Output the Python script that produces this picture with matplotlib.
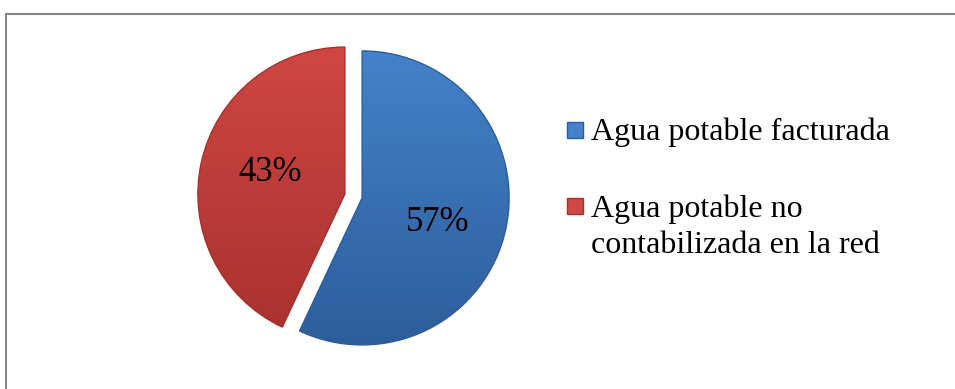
import numpy as np
import matplotlib
matplotlib.use("Agg")
import matplotlib.pyplot as plt
from matplotlib.patches import Rectangle
from matplotlib.lines import Line2D
from matplotlib.colors import LinearSegmentedColormap

# data
labels = ["Agua potable facturada", "Agua potable no\ncontabilizada en la red"]
values = [57, 43]
pct_text = ["57%", "43%"]

# colours (light top -> dark bottom)
blue_top, blue_bot = "#4584CC", "#2C5C9A"
red_top, red_bot = "#D04844", "#A5302D"

plt.rcParams["font.family"] = ["Liberation Serif", "DejaVu Serif"]

W, H = 955, 389
fig = plt.figure(figsize=(W / 100, H / 100), dpi=100)

# pie axes placed in pixels
cx, cy, rpx = 353.5, 389 - 196, 147
half = 1.1 * rpx
ax = fig.add_axes([(cx - half) / W, (cy - half) / H, 2 * half / W, 2 * half / H])

wedges, _ = ax.pie(values, startangle=90, counterclock=False,
                   explode=[0.06, 0.06], radius=1.0,
                   colors=[blue_top, red_top],
                   wedgeprops=dict(linewidth=0))
ax.set_xlim(-1.1, 1.1)
ax.set_ylim(-1.1, 1.1)
ax.set_aspect("equal")
ax.axis("off")

# vertical gradient clipped to each wedge for the shaded look
grad = np.linspace(1, 0, 256).reshape(-1, 1)
for w, (top, bot) in zip(wedges, [(blue_top, blue_bot), (red_top, red_bot)]):
    cmap = LinearSegmentedColormap.from_list("g", [bot, top])
    im = ax.imshow(grad, cmap=cmap, extent=[-1.1, 1.1, -1.1, 1.1],
                   aspect="auto", zorder=2, origin="upper")
    im.set_clip_path(w)
    w.set_edgecolor(bot)
    w.set_linewidth(1.0)
    w.set_zorder(3)
    w.set_facecolor("none")

# percentage labels
ax.text(0.57, -0.18, pct_text[0], fontsize=25, ha="center", va="center", zorder=5)
ax.text(-0.57, 0.16, pct_text[1], fontsize=25, ha="center", va="center", zorder=5)

# legend, placed by hand (pixel positions from the top)
marker_x, text_x = 575, 591
entry_y = [130, 206]        # marker centres
baseline_y = [140, 217]     # first-line baselines
line_step = 36
for lab, my, by, fc, ec in zip(labels, entry_y, baseline_y,
                               [blue_top, red_top], [blue_bot, red_bot]):
    fig.add_artist(Line2D([marker_x / W], [(H - my) / H], transform=fig.transFigure,
                          marker="s", markersize=11.5, linestyle="none",
                          markerfacecolor=fc, markeredgecolor=ec))
    for i, line in enumerate(lab.split("\n")):
        fig.text(text_x / W, (H - by - i * line_step) / H, line, fontsize=23,
                 ha="left", va="baseline")

# outer frame (only top and left edges fall inside the image)
fig.patches.append(Rectangle((6 / W, -0.1), 1.2, (389 - 14) / H + 0.1,
                             transform=fig.transFigure, fill=False,
                             edgecolor="#868686", linewidth=1.5))

fig.savefig("out.png", dpi=100)
